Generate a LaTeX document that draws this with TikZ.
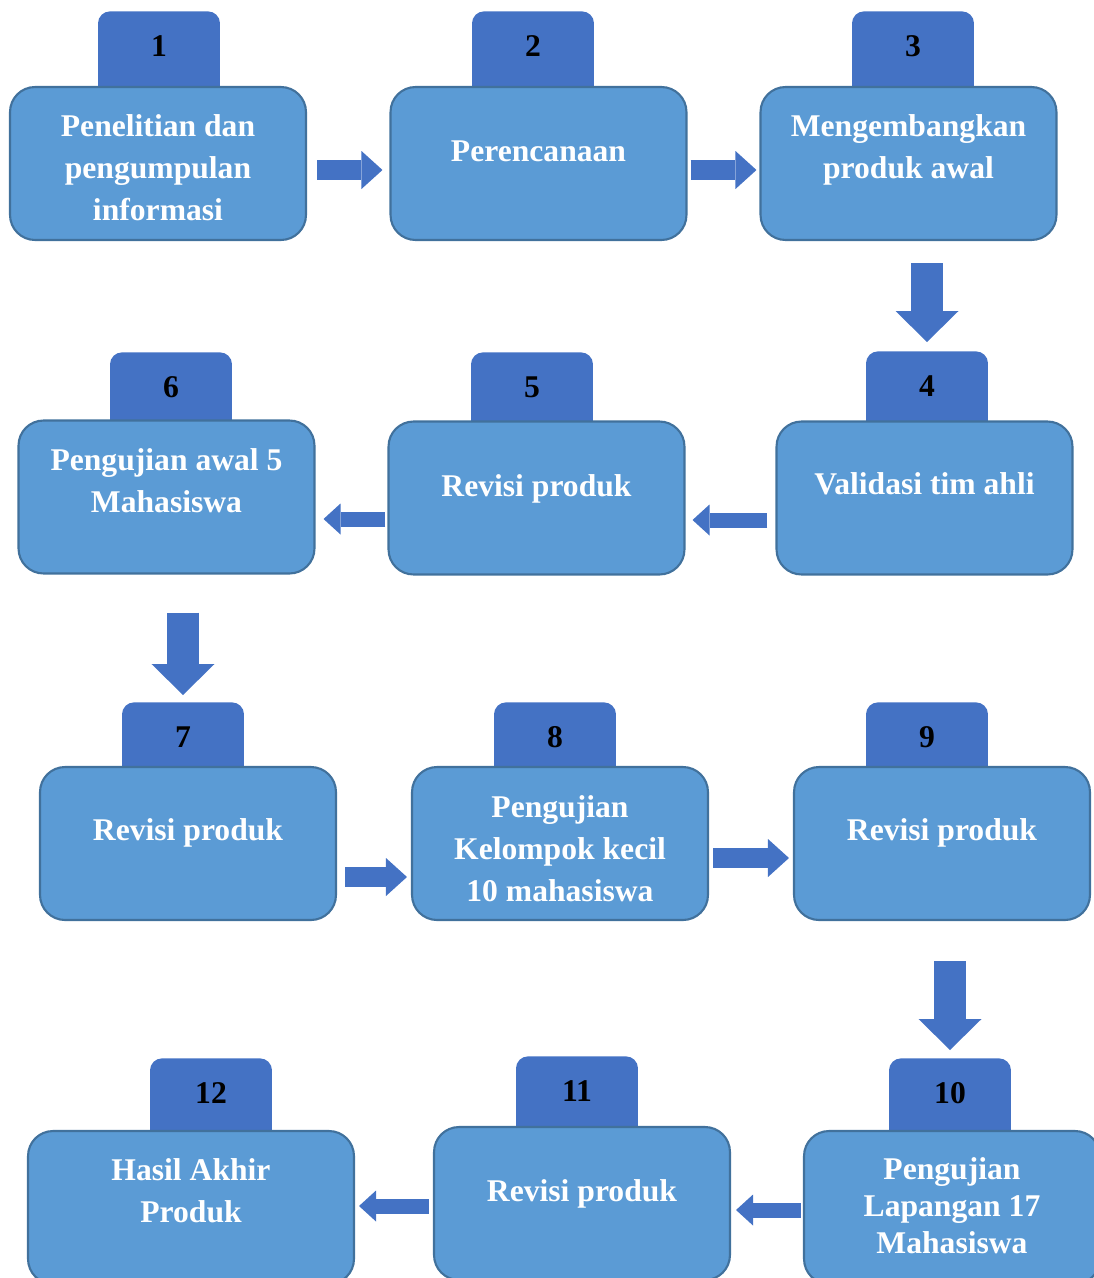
\documentclass[tikz,border=0pt]{standalone}
\usepackage{fontspec}
\setmainfont{Liberation Serif}
\usetikzlibrary{arrows.meta}

\definecolor{boxblue}{RGB}{91,155,213}
\definecolor{boxedge}{RGB}{65,113,156}
\definecolor{tabblue}{RGB}{68,114,196}

\begin{document}
\begin{tikzpicture}[x=0.02cm,y=-0.02cm]
\def\px{0.02cm}

\tikzset{
  box/.style={draw=boxedge, line width=1.2pt, fill=boxblue, rounded corners=0.5cm,
    minimum width=5.92cm, minimum height=3.06cm},
  boxtext/.style={text=white, align=center, font=\bfseries\fontsize{18}{24}\selectfont},
  tab/.style={fill=tabblue, rounded corners=0.24cm, anchor=north, inner sep=0pt,
    minimum width=2.44cm, text height=0.9cm, text depth=1.2cm,
    font=\bfseries\fontsize{18}{20}\selectfont},
  harrow/.style={draw=tabblue, line width=0.4cm,
    -{Triangle[length=0.42cm,width=0.76cm,line width=0pt]}},
  larrow/.style={draw=tabblue, line width=0.3cm,
    -{Triangle[length=0.34cm,width=0.62cm,line width=0pt]}},
  varrow/.style={draw=tabblue, line width=0.64cm,
    -{Triangle[length=0.62cm,width=1.26cm,line width=0pt]}}
}

\useasboundingbox (0,0) rectangle (1094,1278);

% Number tabs (behind the boxes)
\foreach \n/\x/\y in {1/159/11, 2/533/11, 3/913/11,
                      4/927/351, 5/532/352, 6/171/352,
                      7/183/702, 8/555/702, 9/927/702,
                      10/950/1058, 11/577/1056, 12/211/1058} {
  \node[tab] (n\n) at (\x,\y) {\n};
}

% Boxes
\foreach \n/\x/\y in {1/158/163.5, 2/538.5/163.5, 3/908.5/163.5,
                      4/924.5/498, 5/536.5/498, 6/166.5/497,
                      7/188/843.5, 8/560/843.5, 9/942/843.5,
                      10/952/1207.5, 11/582/1203.5} {
  \node[box] (b\n) at (\x,\y) {};
}
\node[box, minimum width=6.52cm] (b12) at (191,1207.5) {};

% Texts
\node[boxtext] (t1) at ([yshift=-4.5*\px]b1.center) {Penelitian dan\\pengumpulan\\informasi};
\node[boxtext] (t2) at ([yshift=12.5*\px]b2.center) {Perencanaan};
\node[boxtext] (t3) at ([yshift=13.5*\px]b3.center) {Mengembangkan\\produk awal};
\node[boxtext] (t4) at ([yshift=14*\px]b4.center) {Validasi tim ahli};
\node[boxtext] (t5) at ([yshift=9*\px]b5.center) {Revisi produk};
\node[boxtext] (t6) at ([yshift=16*\px]b6.center) {Pengujian awal 5\\Mahasiswa};
\node[boxtext] (t7) at ([yshift=10.5*\px]b7.center) {Revisi produk};
\node[boxtext] (t8) at ([yshift=-5.5*\px]b8.center) {Pengujian\\Kelompok kecil\\10 mahasiswa};
\node[boxtext] (t9) at ([yshift=10.5*\px]b9.center) {Revisi produk};
\node[boxtext, font=\bfseries\fontsize{18}{21}\selectfont] (t10) at ([yshift=1.5*\px]b10.center) {Pengujian\\Lapangan 17\\Mahasiswa};
\node[boxtext] (t11) at ([yshift=9.5*\px]b11.center) {Revisi produk};
\node[boxtext] (t12) at ([yshift=16.5*\px]b12.center) {Hasil Akhir\\Produk};

% Arrows
\draw[harrow, shorten <=0.2cm, shorten >=0.14cm] ([yshift=-6.5*\px]b1.east) -- ([yshift=-6.5*\px]b1.east -| b2.west);
\draw[harrow, shorten <=0.06cm, shorten >=0.06cm] ([yshift=-6.5*\px]b2.east) -- ([yshift=-6.5*\px]b2.east -| b3.west);
\draw[varrow, shorten <=0.44cm, shorten >=0.18cm] (b3.south -| n4) -- (n4.north);

\draw[larrow, shorten <=0.16cm, shorten >=0.14cm] ([yshift=-22*\px]b4.west) -- ([yshift=-22*\px]b4.west -| b5.east);
\draw[larrow, shorten <=0.04cm, shorten >=0.16cm] ([yshift=-21*\px]b5.west) -- ([yshift=-21*\px]b5.west -| b6.east);
\draw[varrow, shorten <=0.76cm, shorten >=0.14cm] (b6.south -| n7) -- (n7.north);

\draw[harrow, shorten <=0.16cm, shorten >=0.08cm] ([yshift=-33.5*\px]b7.east) -- ([yshift=-33.5*\px]b7.east -| b8.west);
\draw[harrow, shorten <=0.08cm, shorten >=0.08cm] ([yshift=-14.5*\px]b8.east) -- ([yshift=-14.5*\px]b8.east -| b9.west);
\draw[varrow, shorten <=0.8cm, shorten >=0.16cm] (b9.south -| n10) -- (n10.north);

\draw[larrow, shorten <=0.04cm, shorten >=0.1cm] ([yshift=-2.5*\px]b10.west) -- ([yshift=-2.5*\px]b10.west -| b11.east);
\draw[larrow, shorten <=0.08cm, shorten >=0.08cm] ([yshift=-2.5*\px]b11.west) -- ([yshift=-2.5*\px]b11.west -| b12.east);

\end{tikzpicture}
\end{document}
